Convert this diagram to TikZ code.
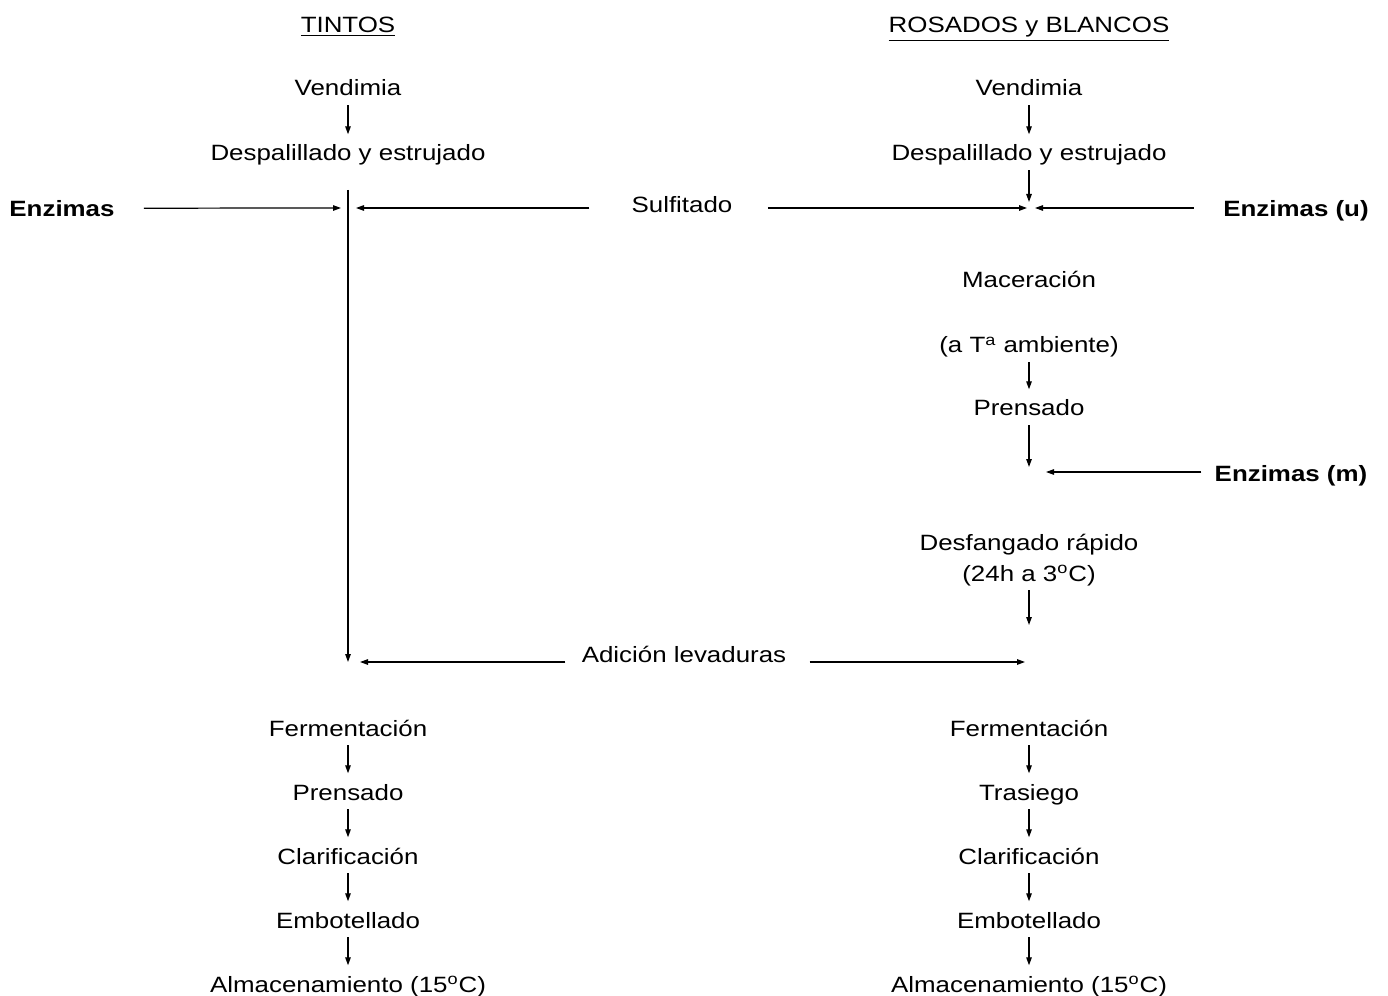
\documentclass[tikz,border=0pt]{standalone}
\usepackage{fontspec}
\setmainfont{Liberation Sans}[FakeStretch=1.17]
\usetikzlibrary{arrows.meta}
\def\grad{\textsuperscript{o}C}
\def\fl{\draw[flow]}

\begin{document}
\begin{tikzpicture}[x=0.02cm,y=-0.02cm,
    lbl/.style={anchor=base,inner xsep=0pt,inner ysep=2pt,text height=13pt,text depth=3pt,
        font=\fontsize{12.6}{15}\selectfont},
    enz/.style={lbl,font=\fontsize{12.6}{15}\selectfont\bfseries},
    flow/.style={-{Triangle[length=1.6mm,width=1.1mm]},line width=0.7pt}]
\useasboundingbox (0,0) rectangle (1388,996);

% tintos
\node[lbl] (ttit) at (348,33) {\underline{TINTOS}};
\node[lbl] (tvend) at (348,96) {Vendimia};
\node[lbl] (tdesp) at (348,161) {Despalillado y estrujado};
\node[lbl] (tferm) at (348,736) {Fermentación};
\node[lbl] (tpren) at (348,800) {Prensado};
\node[lbl] (tclar) at (348,864) {Clarificación};
\node[lbl] (tembo) at (348,928) {Embotellado};
\node[lbl] (talma) at (348,992) {Almacenamiento (15\grad)};

% rosados y blancos
\node[lbl] (rtit) at (1029,33) {\underline{ROSADOS y BLANCOS}};
\node[lbl] (rvend) at (1029,96) {Vendimia};
\node[lbl] (rdesp) at (1029,161) {Despalillado y estrujado};
\node[lbl] (rmace) at (1029,288) {Maceración};
\node[lbl] (ramb) at (1029,353) {(a T\textsuperscript{a} ambiente)};
\node[lbl] (rpren) at (1029,416) {Prensado};
\node[lbl] (rdesf) at (1029,550) {Desfangado rápido};
\node[lbl] (rtemp) at (1029,581) {(24h a 3\grad)};
\node[lbl] (rferm) at (1029,736) {Fermentación};
\node[lbl] (rtras) at (1029,800) {Trasiego};
\node[lbl] (rclar) at (1029,864) {Clarificación};
\node[lbl] (rembo) at (1029,928) {Embotellado};
\node[lbl] (ralma) at (1029,992) {Almacenamiento (15\grad)};

% aditivos
\node[lbl] (sulf) at (682,213) {Sulfitado};
\node[lbl] (adic) at (684,662) {Adición levaduras};
\node[enz] (enzt) at (62,217) {Enzimas};
\node[enz] (enzu) at (1296,217) {Enzimas (u)};
\node[enz] (enzm) at (1291,481) {Enzimas (m)};

\coordinate (ltop) at (348,190);
\coordinate (ljoin) at (348,208);
\coordinate (lbot) at (348,662);
\coordinate (rjoin) at (1029,208);
\coordinate (rmix) at (1029,472);
\coordinate (rbot) at (1029,662);

\fl (tvend) -- (tdesp);
\fl (ltop) -- (lbot);
\fl[shorten <=0.58cm,shorten >=0.14cm] (enzt.east) -- (ljoin);
\fl[shorten <=0.84cm,shorten >=0.16cm] (sulf.west |- ljoin) -- (ljoin);
\fl[shorten <=0.7cm,shorten >=0.04cm] (sulf.east |- rjoin) -- (rjoin);
\fl[shorten <=0.58cm,shorten >=0.12cm] (enzu.west |- rjoin) -- (rjoin);
\fl[shorten <=0.32cm,shorten >=0.24cm] (adic.west |- lbot) -- (lbot);
\fl[shorten <=0.46cm,shorten >=0.08cm] (adic.east |- rbot) -- (rbot);

\fl (rvend) -- (rdesp);
\fl[shorten >=0.12cm] (rdesp) -- (rjoin);
\fl (ramb) -- (rpren);
\fl[shorten >=0.1cm] (rpren) -- (rmix);
\fl[shorten <=0.26cm,shorten >=0.34cm] (enzm.west |- rmix) -- (rmix);
\fl[shorten >=0.74cm] (rtemp) -- (rbot);

\fl (tferm) -- (tpren);
\fl (tpren) -- (tclar);
\fl (tclar) -- (tembo);
\fl (tembo) -- (talma);
\fl (rferm) -- (rtras);
\fl (rtras) -- (rclar);
\fl (rclar) -- (rembo);
\fl (rembo) -- (ralma);
\end{tikzpicture}
\end{document}
